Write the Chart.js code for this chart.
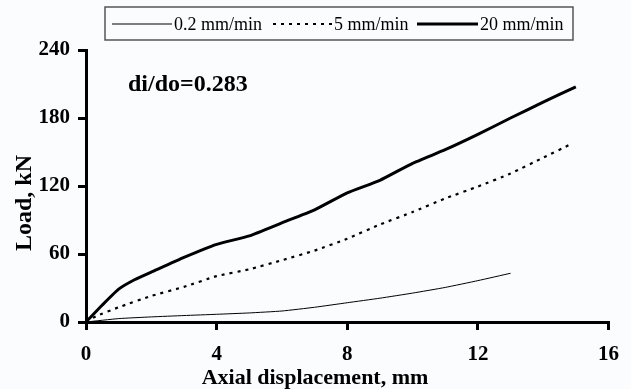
<!DOCTYPE html>
<html>
<head>
<meta charset="utf-8">
<script src="https://cdn.jsdelivr.net/npm/chart.js@4"></script>
<style>
html,body{margin:0;padding:0;background:#fafcfd;}
canvas{display:block;}
</style>
</head>
<body>
<canvas id="c" width="631" height="389"></canvas>
<script>
// ---- data ----
const seriesNames = ['0.2 mm/min', '5 mm/min', '20 mm/min'];

const dispSlow = [0, 1, 2, 3, 4, 5, 6, 7, 8, 9, 10, 11, 12, 13];
const loadSlow = [0, 3, 4.5, 5.7, 6.8, 8, 9.7, 13, 17, 21, 25.5, 30.5, 36.5, 43];

const dispMid = [0, 0.3, 1, 2, 3, 4, 5, 6, 7, 8, 9, 10, 11, 12, 13, 14, 14.85];
const loadMid = [0, 5, 13, 23, 31, 40.5, 46.5, 54.5, 63, 73.5, 86, 97, 109, 119.5, 131, 145, 157];

const dispFast = [0, 0.5, 1, 1.5, 2, 3, 4, 5, 6, 7, 8, 9, 10, 11, 12, 13, 14, 15];
const loadFast = [0, 15, 29, 37.5, 44, 57, 68.5, 76, 87.5, 99, 114, 125, 140, 152, 165.5, 180, 194, 207.5];

const xTicks = [0, 4, 8, 12, 16];
const yTicks = [0, 60, 120, 180, 240];

const xTitle = 'Axial displacement, mm';
const yTitle = 'Load, kN';
const note = 'di/do=0.283';

const toPts = (xs, ys) => xs.map((x, i) => ({x: x, y: ys[i]}));

const styles = [
  {borderWidth: 1, borderDash: []},
  {borderWidth: 2.2, borderDash: [3, 5]},
  {borderWidth: 3, borderDash: []}
];

const serif = '"Liberation Serif", "Times New Roman", serif';

const customText = {
  id: 'customText',
  afterDraw(chart) {
    const ctx = chart.ctx;
    ctx.save();
    ctx.fillStyle = '#000';
    ctx.font = 'bold 24px ' + serif;
    ctx.textAlign = 'center';
    ctx.textBaseline = 'middle';
    ctx.translate(25, 203);
    ctx.rotate(-Math.PI / 2);
    ctx.fillText(yTitle, 0, 0);
    ctx.restore();

    ctx.save();
    ctx.fillStyle = '#000';
    ctx.font = 'bold 22px ' + serif;
    ctx.textAlign = 'center';
    ctx.textBaseline = 'middle';
    ctx.fillText(xTitle, 315, 378);

    ctx.font = 'bold 24px ' + serif;
    ctx.textAlign = 'left';
    ctx.fillText(note, 128, 85);

    // legend box
    ctx.strokeStyle = '#555';
    ctx.lineWidth = 1.5;
    ctx.strokeRect(105, 7, 468, 33);
    const items = [
      {x0: 112, x1: 172, tx: 174},
      {x0: 273, x1: 332, tx: 334},
      {x0: 417, x1: 478, tx: 480}
    ];
    ctx.font = '18px ' + serif;
    ctx.textBaseline = 'middle';
    items.forEach((it, i) => {
      ctx.beginPath();
      ctx.lineWidth = styles[i].borderWidth;
      ctx.setLineDash(styles[i].borderDash);
      ctx.strokeStyle = '#000';
      ctx.moveTo(it.x0, 24);
      ctx.lineTo(it.x1, 24);
      ctx.stroke();
      ctx.setLineDash([]);
      ctx.fillText(seriesNames[i], it.tx, 25);
    });
    ctx.restore();
  }
};

const bg = {
  id: 'bg',
  beforeDraw(chart) {
    const ctx = chart.ctx;
    ctx.save();
    ctx.fillStyle = '#fafcfd';
    ctx.fillRect(0, 0, chart.width, chart.height);
    ctx.restore();
  }
};

new Chart(document.getElementById('c'), {
  type: 'scatter',
  data: {
    datasets: [
      {label: seriesNames[0], data: toPts(dispSlow, loadSlow)},
      {label: seriesNames[1], data: toPts(dispMid, loadMid)},
      {label: seriesNames[2], data: toPts(dispFast, loadFast)}
    ].map((d, i) => Object.assign(d, {
      showLine: true,
      borderColor: '#000',
      backgroundColor: '#000',
      borderWidth: styles[i].borderWidth,
      borderDash: styles[i].borderDash,
      pointRadius: 0,
      tension: 0.15,
      fill: false
    }))
  },
  options: {
    responsive: false,
    animation: false,
    layout: {padding: {top: 50, right: 21, left: 0, bottom: 0}},
    plugins: {legend: {display: false}, tooltip: {enabled: false}},
    scales: {
      x: {
        type: 'linear', min: 0, max: 16,
        afterFit(s) { s.height = 67; },
        afterBuildTicks(s) { s.ticks = xTicks.map(v => ({value: v})); },
        grid: {drawOnChartArea: false, tickLength: 8, lineWidth: 3, color: '#000'},
        border: {width: 3, color: '#000'},
        ticks: {padding: 12, color: '#000', maxRotation: 0,
          font: {family: serif, size: 21, weight: 'bold'}}
      },
      y: {
        type: 'linear', min: 0, max: 240,
        afterFit(s) { s.width = 86; },
        afterBuildTicks(s) { s.ticks = yTicks.map(v => ({value: v})); },
        grid: {drawOnChartArea: false, tickLength: 8, lineWidth: 3, color: '#000'},
        border: {width: 3, color: '#000'},
        ticks: {padding: 8, color: '#000',
          font: {family: serif, size: 21, weight: 'bold'}}
      }
    }
  },
  plugins: [bg, customText]
});
</script>
</body>
</html>
